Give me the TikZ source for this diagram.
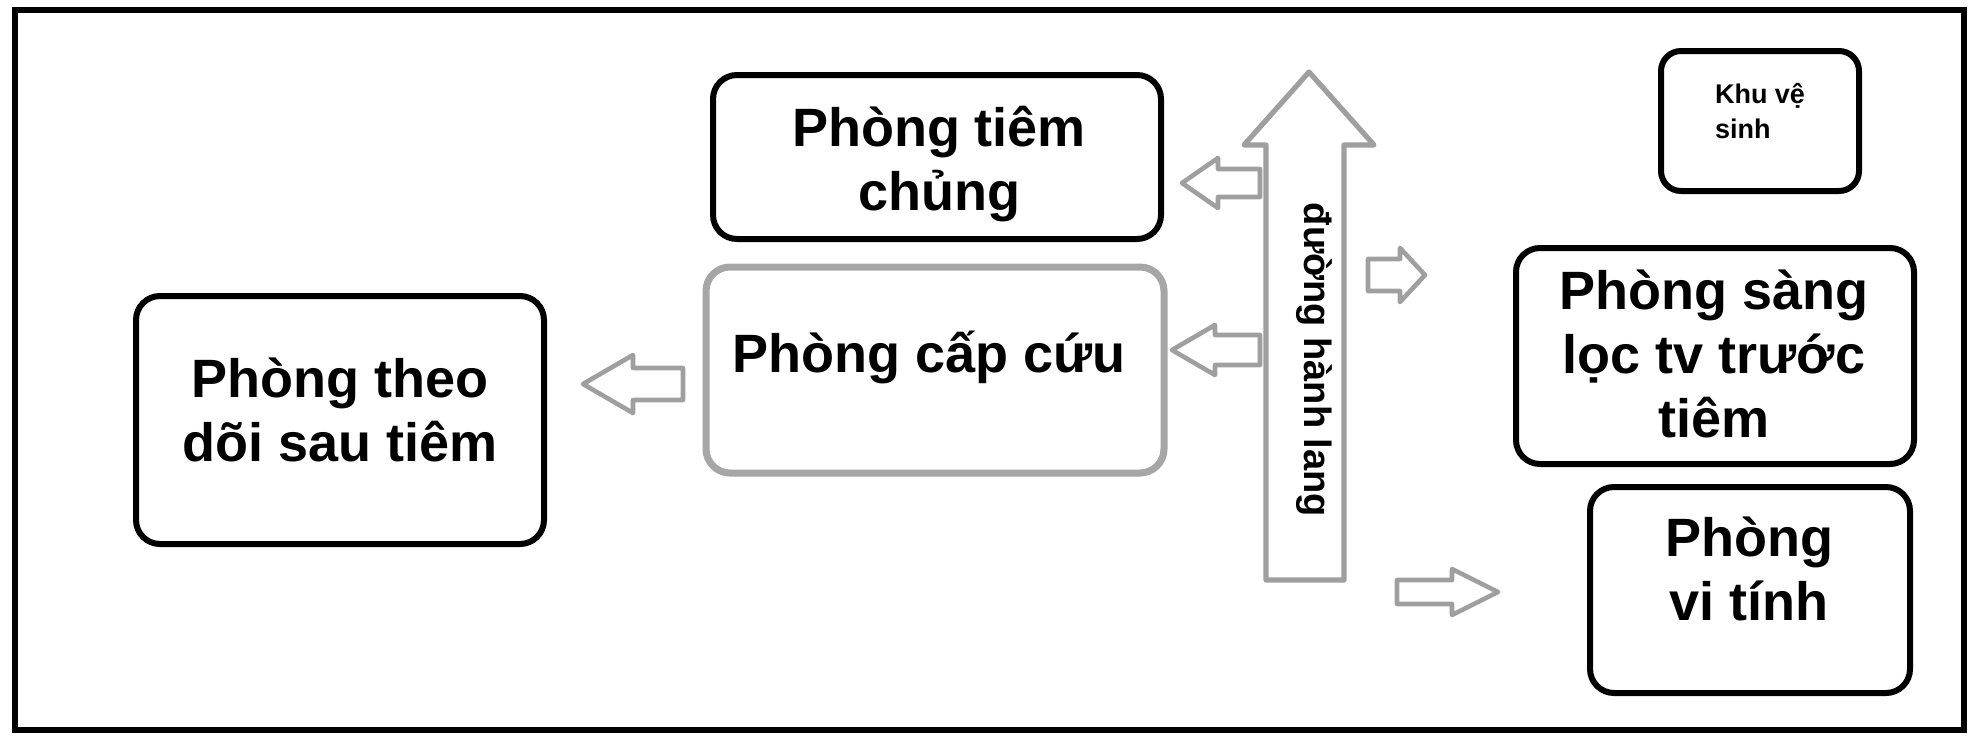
\documentclass[tikz,border=0pt]{standalone}
\usepackage{fontspec}
\setmainfont{Liberation Sans}
\newcommand{\harrow}[6]{%
  \draw[garrow] (#1,#4-#5) -- (#2,#4-#5) -- (#2,#4-#6) -- (#3,#4) -- (#2,#4+#6) -- (#2,#4+#5) -- (#1,#4+#5) -- cycle;}
\begin{document}
\begin{tikzpicture}[x=0.5pt,y=-0.5pt,
  room/.style={draw, line width=3pt, rounded corners=12pt, inner sep=0pt},
  graybox/.style={draw=gray!70, line width=3.5pt, rounded corners=12pt, inner sep=0pt},
  roomtxt/.style={font=\bfseries\fontsize{27}{32}\selectfont, align=center, inner sep=0pt},
  smalltxt/.style={font=\bfseries\fontsize{13.5}{17.5}\selectfont, align=left, inner sep=0pt},
  garrow/.style={draw=gray!75, line width=2.3pt, fill=white, line join=round},
]
\useasboundingbox (0,0) rectangle (1980,745);
\fill[white] (0,0) rectangle (1980,745);
% outer frame
\draw[line width=2.8pt] (15,10) rectangle (1964,730);

% rooms
\node[room, minimum width=204pt, minimum height=124pt] (theo) at (340,420) {};
\node[roomtxt] (theoT) at (340,410) {Phòng theo\\dõi sau tiêm};

\node[room, minimum width=224pt, minimum height=82pt] (tiem) at (937,157) {};
\node[roomtxt] (tiemT) at (939,164) {Phòng tiêm\\chủng};

\node[graybox, minimum width=229pt, minimum height=103pt] (capcuu) at (935,370) {};
\node[roomtxt] (capcuuT) at (929,357) {Phòng cấp cứu};

\node[room, minimum width=99pt, minimum height=70pt, rounded corners=10pt] (khu) at (1760,121) {};
\node[smalltxt] (khuT) at (1760,111) {Khu vệ\\sinh};

\node[room, minimum width=199pt, minimum height=108pt] (sang) at (1715,356) {};
\node[roomtxt] (sangT) at (1714,354) {Phòng sàng\\lọc tv trước\\tiêm};

\node[room, minimum width=160pt, minimum height=103pt] (vitinh) at (1750,590) {};
\node[roomtxt] (vitinhT) at (1749,569) {Phòng\\vi tính};

% corridor arrow
\draw[garrow, line width=2.6pt] (1266,580) -- (1344,580) -- (1344,145) -- (1374,145) -- (1309,72) -- (1244,145) -- (1266,145) -- cycle;
\node[font=\bfseries\fontsize{19}{22}\selectfont, rotate=-90, inner sep=0pt] (hanhlang) at (1314,360) {đường hành lang};

% small block arrows
\harrow{683}{633}{583}{384}{16}{29}
\harrow{1260}{1218}{1182}{183}{14}{25}
\harrow{1260}{1215}{1172}{350}{15}{25}
\harrow{1368}{1400}{1425}{275}{16}{27}
\harrow{1397}{1452}{1498}{592}{12}{23}
\end{tikzpicture}
\end{document}
